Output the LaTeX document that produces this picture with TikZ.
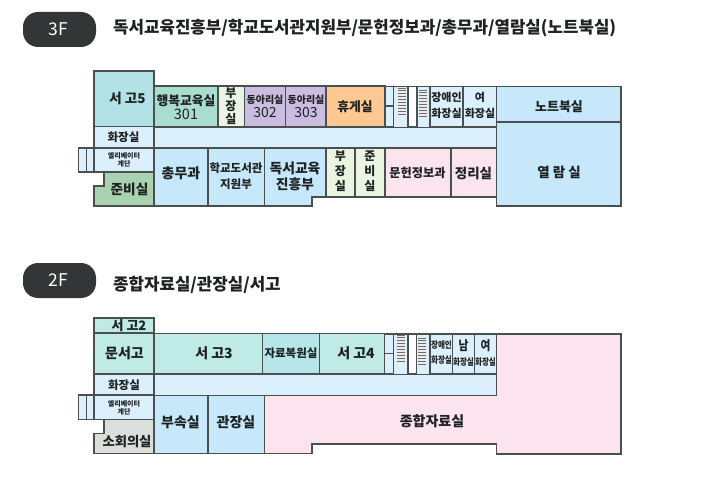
\documentclass[tikz,border=0pt]{standalone}
\usepackage{fontspec}
\setmainfont{Noto Sans CJK KR}
\definecolor{wall}{HTML}{4A4F4F}
\definecolor{ink}{HTML}{1E2222}
\definecolor{pill}{HTML}{333537}
\definecolor{corr}{HTML}{DCEFFD}
\definecolor{blue}{HTML}{C6E8FA}
\definecolor{pinkr}{HTML}{FBE4EE}
\definecolor{paleg}{HTML}{E9F4E2}
\definecolor{teala}{HTML}{B3E2E6}
\definecolor{tealb}{HTML}{BFEAE6}
\definecolor{tealc}{HTML}{B6E5EA}
\definecolor{mint}{HTML}{A9DDCE}
\definecolor{purp}{HTML}{CBBCE2}
\definecolor{orng}{HTML}{FFC892}
\definecolor{greenr}{HTML}{A9D3B0}
\definecolor{greyr}{HTML}{DADFDB}
\tikzset{
  wallline/.style={draw=wall,line width=1.2pt,line join=miter},
  lbl/.style={inner sep=0pt,align=center,text=ink,font=\bfseries},
  pillbox/.style={fill=pill,rounded corners=15pt,draw=none},
  title/.style={anchor=west,inner sep=0pt,text=ink,font=\bfseries\fontsize{16.8}{18}\selectfont},
  floorlbl/.style={inner sep=0pt,text=white,font=\fontsize{17.5}{20}\selectfont}
}
\newcommand{\roombox}[5]{\path[wallline,fill=#5] (#1,#2) rectangle (#3,#4);}
\newcommand{\txt}[5]{\node[lbl,font=\bfseries\fontsize{#4}{#4}\selectfont,align=center] (#1) at (#2,#3) {#5};}
\newcommand{\hatch}[4]{%
  \fill[gray!85!black] (#1,#3) rectangle (#2,#4);
  \pgfmathsetmacro{\ys}{#3+1.5}\pgfmathsetmacro{\yn}{#3+3}
  \foreach \yy in {\ys,\yn,...,#4}{\draw[white!85!gray,line width=0.45pt] (#1,\yy) -- (#2,\yy);}
}
\begin{document}
\begin{tikzpicture}[x=1pt,y=-1pt]
\useasboundingbox (0,0) rectangle (710,500);
\fill[white] (0,0) rectangle (710,500);
% headers
\path[pillbox] (23,12) rectangle (96,47);
\node[floorlbl] (f3) at (58.5,29.5) {3F};
\node[title] (t3) at (113,28.5) {독서교육진흥부/학교도서관지원부/문헌정보과/총무과/열람실(노트북실)};
\path[pillbox] (23,263) rectangle (96,298);
\node[floorlbl] (f2) at (58.5,280.5) {2F};
\node[title] (t2) at (113,284.5) {종합자료실/관장실/서고};
% ---------- 3F ----------
\roombox{154}{127}{496.5}{148}{corr}
\roombox{385}{86.5}{394}{127}{corr}
\draw[wallline] (385,106) -- (394,106);
\path[fill=corr] (394,86.5) rectangle (408,127);
\path[fill=corr] (417,86.5) rectangle (430,127);
\draw[wallline] (394,86.5) -- (430,86.5);
\draw[wallline] (408,86.5) -- (408,127);
\draw[wallline] (417,86.5) -- (417,127);
\hatch{398}{406}{88}{117}
\hatch{419}{427}{90}{118}
\roombox{430}{86.5}{463}{127}{corr}
\roombox{463}{86.5}{496.5}{127}{corr}
\roombox{94}{71}{154}{126.5}{teala}
\roombox{154}{86}{218}{126.5}{mint}
\roombox{218}{86}{244.5}{126.5}{paleg}
\roombox{244.5}{86}{285.5}{126.5}{purp}
\roombox{285.5}{86}{326}{126.5}{purp}
\roombox{326}{86}{385}{126.5}{orng}
\roombox{94}{126.5}{154}{148}{corr}
\roombox{78.5}{148}{94}{172}{corr}
\draw[wallline] (86.5,148) -- (86.5,172);
\roombox{94}{148}{154}{172}{corr}
\path[wallline,fill=greenr] (104,172) -- (154,172) -- (154,206) -- (94,206) -- (94,186) -- (104,186) -- cycle;
\roombox{154}{148}{208}{206}{blue}
\roombox{208}{148}{264.5}{206}{blue}
\path[wallline,fill=blue] (264.5,148) -- (326,148) -- (326,197) -- (312,197) -- (312,206) -- (264.5,206) -- cycle;
\roombox{326}{148}{355}{197}{paleg}
\roombox{355}{148}{385}{197}{paleg}
\roombox{385}{148}{451}{197}{pinkr}
\roombox{451}{148}{496.5}{197}{pinkr}
\roombox{496.5}{122}{621}{206}{blue}
\roombox{496.5}{86.5}{621}{122}{blue}
\txt{a1}{127.5}{98}{13.5}{서 고5}
\node[lbl,font=\bfseries\fontsize{12.8}{15}\selectfont] (a2) at (186,107) {행복교육실\\[-1pt]{\fontsize{14.5}{15}\selectfont\mdseries 301}};
\txt{a3}{231}{106}{12}{부\\[1pt]장\\[1pt]실}
\node[lbl,font=\bfseries\fontsize{10}{15}\selectfont] (a4) at (265,106) {동아리실\\[-1pt]{\fontsize{14}{15}\selectfont\mdseries 302}};
\node[lbl,font=\bfseries\fontsize{10}{15}\selectfont] (a5) at (306,106) {동아리실\\[-1pt]{\fontsize{14}{15}\selectfont\mdseries 303}};
\txt{a6}{355}{107}{12.8}{휴게실}
\txt{a7}{446.5}{105.5}{11}{장애인\\[5pt]화장실}
\txt{a8}{480}{105.5}{11}{여\\[5pt]화장실}
\txt{a9}{559}{107}{13}{노트북실}
\txt{a10}{123.5}{137.5}{11.5}{화장실}
\txt{a11}{124}{160}{7}{엘리베이터\\[1pt]계단}
\txt{a12}{129.5}{189}{13.7}{준비실}
\txt{a13}{181}{173}{14}{총무과}
\node[lbl,font=\bfseries\fontsize{11.5}{15}\selectfont] (a14) at (236,176) {학교도서관\\[1pt]지원부};
\node[lbl,font=\bfseries\fontsize{13.8}{15}\selectfont] (a15) at (295,176) {독서교육\\[1pt]진흥부};
\txt{a16}{340.5}{171.5}{12}{부\\[3pt]장\\[3pt]실}
\txt{a17}{370}{171.5}{12}{준\\[3pt]비\\[3pt]실}
\txt{a18}{417.5}{173}{12.2}{문헌정보과}
\txt{a19}{473.5}{173}{13.5}{정리실}
\txt{a20}{559}{172.5}{13.5}{열 람 실}
% ---------- 2F ----------
\path[wallline,fill=pinkr] (264.5,395.5) -- (496.5,395.5) -- (496.5,334) -- (621,334) -- (621,454) -- (496.5,454) -- (496.5,444) -- (312,444) -- (312,453.5) -- (264.5,453.5) -- cycle;
\roombox{154}{374}{496.5}{395.5}{corr}
\roombox{384.5}{334}{394}{374}{corr}
\draw[wallline] (384.5,353.5) -- (394,353.5);
\path[fill=corr] (394,334) rectangle (408,374);
\path[fill=corr] (416.5,334) rectangle (430,374);
\draw[wallline] (394,334) -- (430,334);
\draw[wallline] (408,334) -- (408,374);
\draw[wallline] (416.5,334) -- (416.5,374);
\hatch{397}{405}{335}{364}
\hatch{418}{426}{338}{366}
\roombox{430}{334}{452.5}{374}{corr}
\roombox{452.5}{334}{474.5}{374}{corr}
\roombox{474.5}{334}{496.5}{374}{corr}
\roombox{94}{318}{154}{333}{tealb}
\roombox{94}{333}{154}{374}{tealb}
\roombox{154}{333.5}{262.5}{374}{tealb}
\roombox{262.5}{333.5}{319.5}{374}{tealc}
\roombox{319.5}{333.5}{384.5}{374}{tealb}
\roombox{94}{374}{154}{395}{corr}
\roombox{78.5}{395}{94}{419.5}{corr}
\draw[wallline] (86.5,395) -- (86.5,419.5);
\roombox{94}{395}{154}{419.5}{corr}
\path[wallline,fill=greyr] (104,419.5) -- (154,419.5) -- (154,453.5) -- (94,453.5) -- (94,433.5) -- (104,433.5) -- cycle;
\roombox{154}{395.5}{208}{453.5}{blue}
\roombox{208}{395.5}{264.5}{453.5}{blue}
\txt{b1}{129}{326}{13}{서 고2}
\txt{b2}{124.5}{353}{14}{문서고}
\txt{b3}{214}{353}{14}{서 고3}
\txt{b4}{291}{353}{11.5}{자료복원실}
\txt{b5}{356}{353}{14}{서 고4}
\node[lbl,xscale=.82,font=\bfseries\fontsize{9.2}{10}\selectfont] (b6) at (441.5,353) {장애인\\[5pt]화장실};
\node[lbl,xscale=.82,font=\bfseries\fontsize{9.2}{10}\selectfont] (b7) at (463.5,353) {{\fontsize{13}{10}\selectfont 남}\\[5pt]화장실};
\node[lbl,xscale=.82,font=\bfseries\fontsize{9.2}{10}\selectfont] (b8) at (485.5,353) {{\fontsize{13}{10}\selectfont 여}\\[5pt]화장실};
\txt{b9}{124}{385}{11.5}{화장실}
\txt{b10}{124}{408}{7}{엘리베이터\\[1pt]계단}
\txt{b11}{127}{441.5}{13.3}{소회의실}
\txt{b12}{180.5}{422}{14}{부속실}
\txt{b13}{236}{422}{14}{관장실}
\txt{b14}{432}{421.5}{14}{종합자료실}
\end{tikzpicture}
\end{document}
